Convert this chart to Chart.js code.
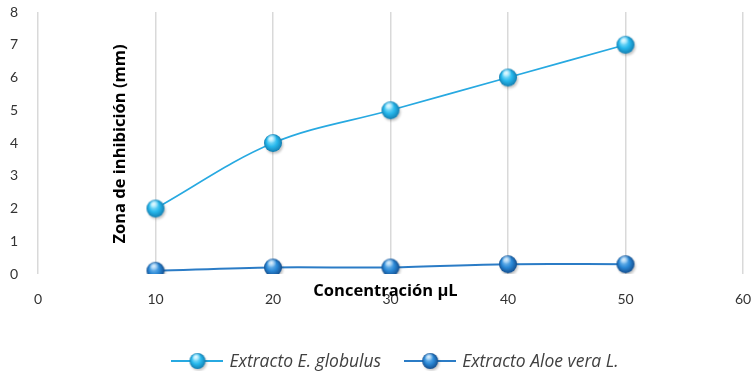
<!DOCTYPE html>
<html>
<head>
<meta charset="utf-8">
<script src="https://cdn.jsdelivr.net/npm/chart.js@4.4.1/dist/chart.umd.min.js"></script>
<style>
  html, body { margin: 0; padding: 0; background: #fff; }
  #wrap { width: 756px; height: 371px; }
</style>
</head>
<body>
<div id="wrap"><canvas id="c" width="756" height="371"></canvas></div>
<script>
// Concentration (µL) and inhibition zone (mm) for each extract
const concentracion = [10, 20, 30, 40, 50];
const eGlobulus = [2, 4, 5, 6, 7];
const aloeVera = [0.1, 0.2, 0.2, 0.3, 0.3];
const seriesNames = ['Extracto E. globulus', 'Extracto Aloe vera L.'];
const xTitle = 'Concentración µL';
const yTitle = 'Zona de inhibición (mm)';

const TICK_FONT = 'Lato, "Open Sans", sans-serif';
const TEXT_FONT = '"Open Sans", Lato, sans-serif';

// Glossy sphere marker
function sphere(ctx, cx, cy, r, light, mid, dark) {
  ctx.save();
  ctx.fillStyle = 'rgba(0,0,0,0.22)';
  ctx.filter = 'blur(1.2px)';
  ctx.beginPath();
  ctx.arc(cx + 1.3, cy + 1.8, r, 0, Math.PI * 2);
  ctx.fill();
  ctx.restore();
  const g = ctx.createRadialGradient(cx - r * 0.3, cy - r * 0.45, r * 0.1, cx, cy, r);
  g.addColorStop(0, light);
  g.addColorStop(0.55, mid);
  g.addColorStop(1, dark);
  ctx.fillStyle = g;
  ctx.beginPath();
  ctx.arc(cx, cy, r, 0, Math.PI * 2);
  ctx.fill();
  const h = ctx.createRadialGradient(cx - r * 0.15, cy - r * 0.55, 0, cx - r * 0.15, cy - r * 0.55, r * 0.55);
  h.addColorStop(0, 'rgba(255,255,255,0.75)');
  h.addColorStop(1, 'rgba(255,255,255,0)');
  ctx.fillStyle = h;
  ctx.beginPath();
  ctx.arc(cx, cy, r, 0, Math.PI * 2);
  ctx.fill();
}

function markerCanvas(colors) {
  const c = document.createElement('canvas');
  c.width = 26; c.height = 26;
  sphere(c.getContext('2d'), 13, 13, 9, colors[0], colors[1], colors[2]);
  return c;
}

function legendCanvas(colors, lineColor) {
  const c = document.createElement('canvas');
  c.width = 52; c.height = 22;
  const ctx = c.getContext('2d');
  ctx.strokeStyle = lineColor;
  ctx.lineWidth = 2;
  ctx.beginPath();
  ctx.moveTo(0, 11); ctx.lineTo(52, 11);
  ctx.stroke();
  sphere(ctx, 26, 11, 8, colors[0], colors[1], colors[2]);
  return c;
}

const colA = ['#a8ecff', '#27b8ec', '#137fb2'];
const colB = ['#8cc8f4', '#2a88d6', '#144f8f'];
const lineA = '#27a9e1';
const lineB = '#2b7cc6';

const markA = markerCanvas(colA);
const markB = markerCanvas(colB);
const legendIcons = [legendCanvas(colA, lineA), legendCanvas(colB, lineB)];

// Axis titles inside the plotting area, plus a line-and-marker legend underneath
const decorations = {
  id: 'decorations',
  afterDraw(chart) {
    const { ctx, chartArea } = chart;
    ctx.save();
    ctx.fillStyle = '#000';
    ctx.font = 'bold 16.5px ' + TEXT_FONT;
    ctx.textAlign = 'center';
    ctx.textBaseline = 'middle';
    ctx.fillText(xTitle, (chartArea.left + chartArea.right) / 2 - 5, chartArea.bottom + 17);
    ctx.save();
    ctx.translate(chartArea.left + 82, (chartArea.top + chartArea.bottom) / 2 + 1);
    ctx.rotate(-Math.PI / 2);
    ctx.fillText(yTitle, 0, 0);
    ctx.restore();

    // legend
    ctx.font = 'italic 17.5px ' + TEXT_FONT;
    ctx.fillStyle = '#404040';
    ctx.textAlign = 'left';
    const iconW = 52, gapText = 6, gapItem = 23;
    const widths = seriesNames.map(t => ctx.measureText(t).width);
    const total = widths.reduce((a, w) => a + iconW + gapText + w, 0) + gapItem;
    let x = 395 - total / 2;
    const y = 361;
    seriesNames.forEach((t, i) => {
      ctx.drawImage(legendIcons[i], x, y - 11);
      x += iconW + gapText;
      ctx.fillText(t, x, y + 1);
      x += widths[i] + gapItem;
    });
    ctx.restore();
  }
};

new Chart(document.getElementById('c'), {
  type: 'scatter',
  data: {
    datasets: [
      {
        label: seriesNames[0],
        data: concentracion.map((x, i) => ({ x, y: eGlobulus[i] })),
        showLine: true,
        borderColor: lineA,
        borderWidth: 1.6,
        tension: 0.35,
        pointStyle: markA,
        pointRadius: 9,
        pointHoverRadius: 9
      },
      {
        label: seriesNames[1],
        data: concentracion.map((x, i) => ({ x, y: aloeVera[i] })),
        showLine: true,
        borderColor: lineB,
        borderWidth: 2,
        tension: 0.35,
        pointStyle: markB,
        pointRadius: 9,
        pointHoverRadius: 9
      }
    ]
  },
  options: {
    responsive: false,
    animation: false,
    layout: { padding: { left: 9, right: 13, top: 12, bottom: 0 } },
    scales: {
      x: {
        type: 'linear',
        min: 0, max: 60,
        ticks: { stepSize: 10, color: '#333', font: { family: TICK_FONT, size: 14 }, padding: 17 },
        grid: { color: '#d9d9d9', lineWidth: 1.5, drawTicks: false },
        border: { display: false },
        afterFit(s) { s.height = 97; s.paddingLeft = 0; s.paddingRight = 0; }
      },
      y: {
        min: 0, max: 8,
        ticks: { stepSize: 1, color: '#333', font: { family: TICK_FONT, size: 14 }, padding: 20 },
        grid: { display: false, drawTicks: false },
        border: { display: false },
        afterFit(s) { s.width = 29; s.paddingTop = 0; s.paddingBottom = 0; }
      }
    },
    plugins: {
      tooltip: { enabled: false },
      legend: { display: false }
    }
  },
  plugins: [decorations]
});
</script>
</body>
</html>
